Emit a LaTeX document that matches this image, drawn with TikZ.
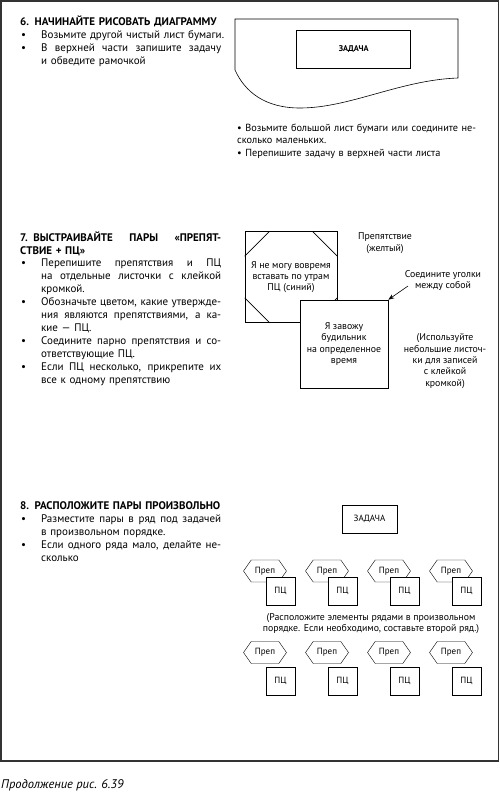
\documentclass[tikz,border=0pt]{standalone}
\usepackage{fontspec}
\setmainfont{PT Sans}
\usetikzlibrary{arrows.meta,positioning,shapes.symbols}

\newcommand{\bul}{\makebox[21pt][l]{\hspace{1pt}•}}
\newcommand{\ind}{\hspace*{21pt}}
\newcommand{\jl}[2][180pt]{\makebox[#1][s]{\spaceskip=0.2em plus 1fil\relax #2}}
\newcommand{\hd}{\bfseries\fontsize{11}{13}\selectfont}

\begin{document}
\begin{tikzpicture}[x=1pt, y=-1pt,
  font=\fontsize{11}{13}\selectfont,
  frame/.style={draw=black!80, line width=1.2pt},
  txt/.style={anchor=base west, inner sep=0pt, align=left, text width=#1},
  sheet/.style={draw, line width=0.6pt},
  task/.style={draw, line width=0.6pt, inner sep=0pt,
               font=\fontsize{9}{10}\selectfont},
  note/.style={draw, line width=0.6pt, fill=white, align=center,
               inner sep=0pt, font=\fontsize{9.8}{11.3}\selectfont},
  lbl/.style={align=center, inner sep=0pt,
              font=\fontsize{9.8}{11.3}\selectfont},
  prep/.style={draw, signal, signal to=west and east,
               signal pointer angle=110, minimum width=43pt,
               minimum height=22pt, inner sep=0pt, fill=white,
               font=\fontsize{9}{10}\selectfont},
  pc/.style={draw, fill=white, minimum width=29pt, minimum height=28pt,
             inner sep=0pt, font=\fontsize{9}{10}\selectfont},
  hint/.style={-{Stealth[length=6pt, width=4.5pt]}, line width=0.6pt}]
\useasboundingbox (0,0) rectangle (500,793);
\draw[frame] (1,1) rectangle (498.5,761);

\node[txt=270pt] (sec6) at (20,25) {{\hd 6. НАЧИНАЙТЕ РИСОВАТЬ ДИАГРАММУ}\\
  \bul Возьмите другой чистый лист бумаги.\\
  \bul\jl{В верхней части запишите задачу}\\
  \ind и обведите рамочкой};
\draw[sheet] (235,70) -- (235,19) -- (458,19) -- (458,78)
  .. controls (400,80) and (350,108) .. (300,108)
  .. controls (265,108) and (245,92) .. (235,70);
\node[task, font=\bfseries\fontsize{8.3}{10}\selectfont, minimum width=114pt,
  minimum height=37.5pt] (task6) at (353.7,49.5) {ЗАДАЧА};
\node[txt=240pt, font=\fontsize{10.3}{12.5}\selectfont] (sheettxt) at (237,131)
  {• Возьмите большой лист бумаги или соедините не-\\
  сколько маленьких.\\
  • Перепишите задачу в верхней части листа};

\node[txt=270pt] (sec7) at (20,241.7) {{\hd\jl[201pt]{7. ВЫСТРАИВАЙТЕ ПАРЫ «ПРЕПЯТ-}\\
  СТВИЕ + ПЦ»}\\[-1.5pt]
  \bul\jl{Перепишите препятствия и ПЦ}\\
  \ind\jl{на отдельные листочки с клейкой}\\
  \ind кромкой.\\
  \bul\jl{Обозначьте цветом, какие утвержде-}\\
  \ind\jl{ния являются препятствиями, а ка-}\\
  \ind кие — ПЦ.\\
  \bul\jl{Соедините парно препятствия и со-}\\
  \ind ответствующие ПЦ.\\
  \bul\jl{Если ПЦ несколько, прикрепите их}\\
  \ind все к одному препятствию};
\node[note, minimum width=92pt, minimum height=91pt] (note1) at (291,277)
  {Я не могу вовремя\\вставать по утрам\\ПЦ (синий)};
\draw[line width=0.6pt] ([shift={(0,25)}]note1.north west) -- ([shift={(25,0)}]note1.north west);
\draw[line width=0.6pt] ([shift={(0,25)}]note1.north east) -- ([shift={(-25,0)}]note1.north east);
\draw[line width=0.6pt] ([shift={(0,-25)}]note1.south west) -- ([shift={(25,0)}]note1.south west);
\draw[line width=0.6pt] ([shift={(0,-25)}]note1.south east) -- ([shift={(-25,0)}]note1.south east);
\node[note, minimum size=88pt] (note2) at (344,344)
  {Я завожу\\будильник\\на определенное\\время};
\node[lbl] (yellow) at (385,243) {Препятствие\\(желтый)};
\node[lbl] (corners) at (443,280.5) {Соедините уголки\\между собой};
\coordinate (hintstart) at (408,286);
\draw[hint] (hintstart) -- (note2.north east);
\node[lbl] (sticky) at (445,361) {(Используйте\\небольшие листоч-\\ки для записей\\с клейкой\\кромкой)};

\node[txt=270pt] (sec8) at (20,509.3) {{\hd 8. РАСПОЛОЖИТЕ ПАРЫ ПРОИЗВОЛЬНО}\\
  \bul\jl{Разместите пары в ряд под задачей}\\
  \ind в произвольном порядке.\\
  \bul\jl{Если одного ряда мало, делайте не-}\\
  \ind сколько};
\node[task, minimum width=55pt, minimum height=28pt] (task8) at (369.5,519) {ЗАДАЧА};

\node[prep] (prepa) at (265,571) {Преп};
\node[pc] (pca) at ([shift={(15.5,20)}]prepa) {ПЦ};
\node[prep] (prepb) at (327,571) {Преп};
\node[pc] (pcb) at ([shift={(15.5,20)}]prepb) {ПЦ};
\node[prep] (prepc) at (389,571) {Преп};
\node[pc] (pcc) at ([shift={(15.5,20)}]prepc) {ПЦ};
\node[prep] (prepd) at (451,571) {Преп};
\node[pc] (pcd) at ([shift={(15.5,20)}]prepd) {ПЦ};

\node[lbl, font=\fontsize{9.8}{11}\selectfont] (order) at (371,624)
  {(Расположите элементы рядами в произвольном\\порядке. Если необходимо, составьте второй ряд.)};

\node[prep] (prepe) at (265,652.5) {Преп};
\node[pc] (pce) at ([shift={(15.5,28.5)}]prepe) {ПЦ};
\node[prep] (prepf) at (327,652.5) {Преп};
\node[pc] (pcf) at ([shift={(15.5,28.5)}]prepf) {ПЦ};
\node[prep] (prepg) at (389,652.5) {Преп};
\node[pc] (pcg) at ([shift={(15.5,28.5)}]prepg) {ПЦ};
\node[prep] (preph) at (451,652.5) {Преп};
\node[pc] (pch) at ([shift={(15.5,28.5)}]preph) {ПЦ};

\node[anchor=base west, inner sep=0pt, font=\itshape\fontsize{12.5}{14}\selectfont]
  (caption) at (1,788) {Продолжение рис. 6.39};
\end{tikzpicture}
\end{document}
